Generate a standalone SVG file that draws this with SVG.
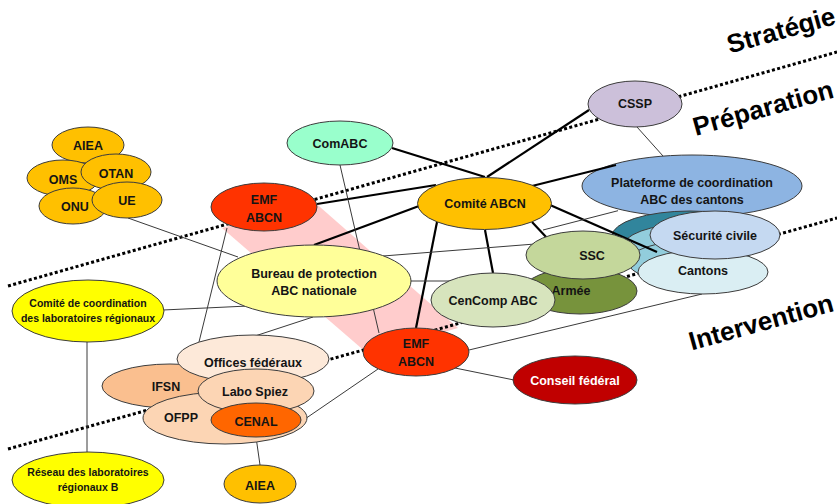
<svg xmlns="http://www.w3.org/2000/svg" width="837" height="504" viewBox="0 0 837 504">
<style>
.n{stroke:#3c3c3c;stroke-width:1}
.t{font-family:"Liberation Sans",Arial,sans-serif;font-weight:bold;font-size:12.5px;text-anchor:middle;fill:#141414}
.s{font-size:10.5px}
.w{fill:#ffffff}
.lbl{font-family:"Liberation Sans",Arial,sans-serif;font-weight:bold;font-size:26px;text-anchor:middle;fill:#000}
.thick{stroke:#000;stroke-width:2.2;fill:none}
.thin{stroke:#3a3a3a;stroke-width:1;fill:none}
.dot{stroke:#000;stroke-width:3;stroke-dasharray:3 2.4;fill:none}
.gold{fill:#FFC000}
.emf{fill:#FF3300}
</style>
<rect width="837" height="504" fill="#ffffff"/>
<polygon points="222,228 312,200 458,328 368,354" fill="#FFCCCC"/>
<g id="boundaries">
<line class="dot" x1="8" y1="286" x2="837" y2="52"/>
<line class="dot" x1="8" y1="449" x2="837" y2="218"/>
</g>
<g id="labels">
<text class="lbl" transform="translate(781,30) rotate(-15.5)" y="9">Stratégie</text>
<text class="lbl" transform="translate(763,108) rotate(-15.5)" y="9">Préparation</text>
<text class="lbl" transform="translate(761,322) rotate(-15.5)" y="9">Intervention</text>
</g>
<g id="plateforme"><ellipse class="n" cx="692" cy="186" rx="110" ry="31" fill="#8DB4E2"/><text class="t" x="692" y="186.5">Plateforme de coordination</text><text class="t" x="692" y="203.5">ABC des cantons</text></g>
<g id="cantons-stack">
<ellipse class="n" cx="690" cy="236" rx="78" ry="25" fill="#31859C"/>
<ellipse class="n" cx="687" cy="248" rx="65" ry="24" fill="#92CDDC"/>
<ellipse class="n" cx="690" cy="262" rx="62" ry="21" fill="#92CDDC"/>
</g>
<g id="connectors">
<line class="thick" x1="392" y1="148" x2="485" y2="177"/>
<line class="thick" x1="589" y1="110" x2="487" y2="177"/>
<line class="thick" x1="317" y1="204" x2="436" y2="185"/>
<line class="thick" x1="419" y1="206" x2="314" y2="245"/>
<line class="thick" x1="437" y1="222" x2="416" y2="328"/>
<line class="thick" x1="485" y1="230" x2="493" y2="273"/>
<line class="thick" x1="532" y1="222" x2="547" y2="238"/>
<line class="thick" x1="550" y1="205" x2="657" y2="252"/>
<line class="thick" x1="532" y1="186" x2="616" y2="165"/>
<line class="thin" x1="128" y1="218" x2="238" y2="257"/>
<line class="thin" x1="227" y1="228" x2="199" y2="342"/>
<line class="thin" x1="340" y1="165" x2="379" y2="333"/>
<line class="thin" x1="163" y1="310" x2="248" y2="306"/>
<line class="thin" x1="411" y1="281" x2="450" y2="281"/>
<line class="thin" x1="383" y1="256" x2="535" y2="244"/>
<line class="thin" x1="543" y1="230" x2="618" y2="210.7"/>
<line class="thin" x1="255" y1="336" x2="313" y2="317"/>
<line class="thin" x1="302" y1="421" x2="378" y2="369"/>
<line class="thin" x1="256" y1="437" x2="260" y2="465"/>
<line class="thin" x1="87" y1="342" x2="87" y2="452"/>
<line class="thin" x1="469" y1="350" x2="702" y2="294"/>
<line class="thin" x1="455" y1="368" x2="514" y2="380"/>
<line class="thin" x1="637" y1="127" x2="663" y2="156"/>
</g>
<g id="aiea-top"><ellipse class="n gold" cx="88" cy="145" rx="36" ry="18"/><text class="t" x="88" y="149.5">AIEA</text></g>
<g id="oms"><ellipse class="n gold" cx="63" cy="178" rx="36" ry="18"/><text class="t" x="63" y="183.5">OMS</text></g>
<g id="otan"><ellipse class="n gold" cx="116" cy="172" rx="35" ry="18"/><text class="t" x="116" y="178">OTAN</text></g>
<g id="onu"><ellipse class="n gold" cx="73" cy="206" rx="34" ry="18"/><text class="t" x="75" y="210.5">ONU</text></g>
<g id="ue"><ellipse class="n gold" cx="127" cy="200" rx="35" ry="18"/><text class="t" x="127" y="205">UE</text></g>
<g id="comabc"><ellipse class="n" cx="340" cy="143" rx="53" ry="22" fill="#99FFCC"/><text class="t" x="340" y="147.5">ComABC</text></g>
<g id="cssp"><ellipse class="n" cx="635" cy="104" rx="47" ry="23" fill="#CCC0DA"/><text class="t" x="635" y="108">CSSP</text></g>
<g id="emf-abcn-1"><ellipse class="n emf" cx="264" cy="207" rx="53" ry="24"/><text class="t" x="264" y="204">EMF</text><text class="t" x="264" y="221.5">ABCN</text></g>
<g id="comite-abcn"><ellipse class="n gold" cx="484.5" cy="203.5" rx="67" ry="26"/><text class="t" x="485" y="208">Comité ABCN</text></g>
<g id="bureau"><ellipse class="n" cx="314" cy="281" rx="97" ry="36" fill="#FFFF99"/><text class="t" x="314" y="277.5">Bureau de protection</text><text class="t" x="314" y="294.5">ABC nationale</text></g>
<g id="armee"><ellipse class="n" cx="580" cy="291" rx="57" ry="23" fill="#77933C"/><text class="t" x="571" y="295">Armée</text></g>
<g id="ssc"><ellipse class="n" cx="583" cy="255" rx="57" ry="24" fill="#C4D79B"/><text class="t" x="592" y="260">SSC</text></g>
<g id="cencomp"><ellipse class="n" cx="493" cy="300" rx="62" ry="27" fill="#D7E4BD"/><text class="t" x="493" y="305">CenComp ABC</text></g>
<g id="cantons"><ellipse class="n" cx="703" cy="272" rx="65" ry="22" fill="#DAEEF3"/><text class="t" x="703" y="274.5">Cantons</text></g>
<g id="securite-civile"><ellipse class="n" cx="715" cy="235" rx="65" ry="24" fill="#C5D9F1"/><text class="t" x="715" y="239.5">Sécurité civile</text></g>
<g id="emf-abcn-2"><ellipse class="n emf" cx="416" cy="352" rx="53" ry="24"/><text class="t" x="416" y="347.5">EMF</text><text class="t" x="416" y="366">ABCN</text></g>
<g id="conseil-federal"><ellipse class="n" cx="575" cy="380" rx="62" ry="24" fill="#C00000"/><text class="t w" x="575" y="384.5">Conseil fédéral</text></g>
<g id="comite-coordination"><ellipse class="n" cx="88" cy="311" rx="76" ry="31" fill="#FFFF00"/><text class="t s" x="88" y="306.5">Comité de coordination</text><text class="t s" x="88" y="322">des laboratoires régionaux</text></g>
<g id="reseau"><ellipse class="n" cx="88" cy="480" rx="76" ry="28" fill="#FFFF00"/><text class="t s" x="88" y="476">Réseau des laboratoires</text><text class="t s" x="88" y="491">régionaux B</text></g>
<g id="ifsn"><ellipse class="n" cx="170" cy="386" rx="68" ry="22" fill="#FABF8F"/><text class="t" x="166" y="391">IFSN</text></g>
<g id="ofpp"><ellipse class="n" cx="225" cy="418" rx="82" ry="26" fill="#FCD5B4"/><text class="t" x="181" y="422">OFPP</text></g>
<g id="offices-federaux"><ellipse class="n" cx="253" cy="359" rx="76" ry="24" fill="#FDE9D9"/><text class="t" x="253" y="367">Offices fédéraux</text></g>
<g id="labo-spiez"><ellipse class="n" cx="256" cy="391" rx="58" ry="22" fill="#FCD5B4"/><text class="t" x="255" y="396">Labo Spiez</text></g>
<g id="cenal"><ellipse class="n" cx="256" cy="420" rx="45" ry="17" fill="#FF6600"/><text class="t" x="256" y="426">CENAL</text></g>
<g id="aiea-bottom"><ellipse class="n gold" cx="260" cy="484" rx="36" ry="19"/><text class="t" x="260" y="489.5">AIEA</text></g>
</svg>
